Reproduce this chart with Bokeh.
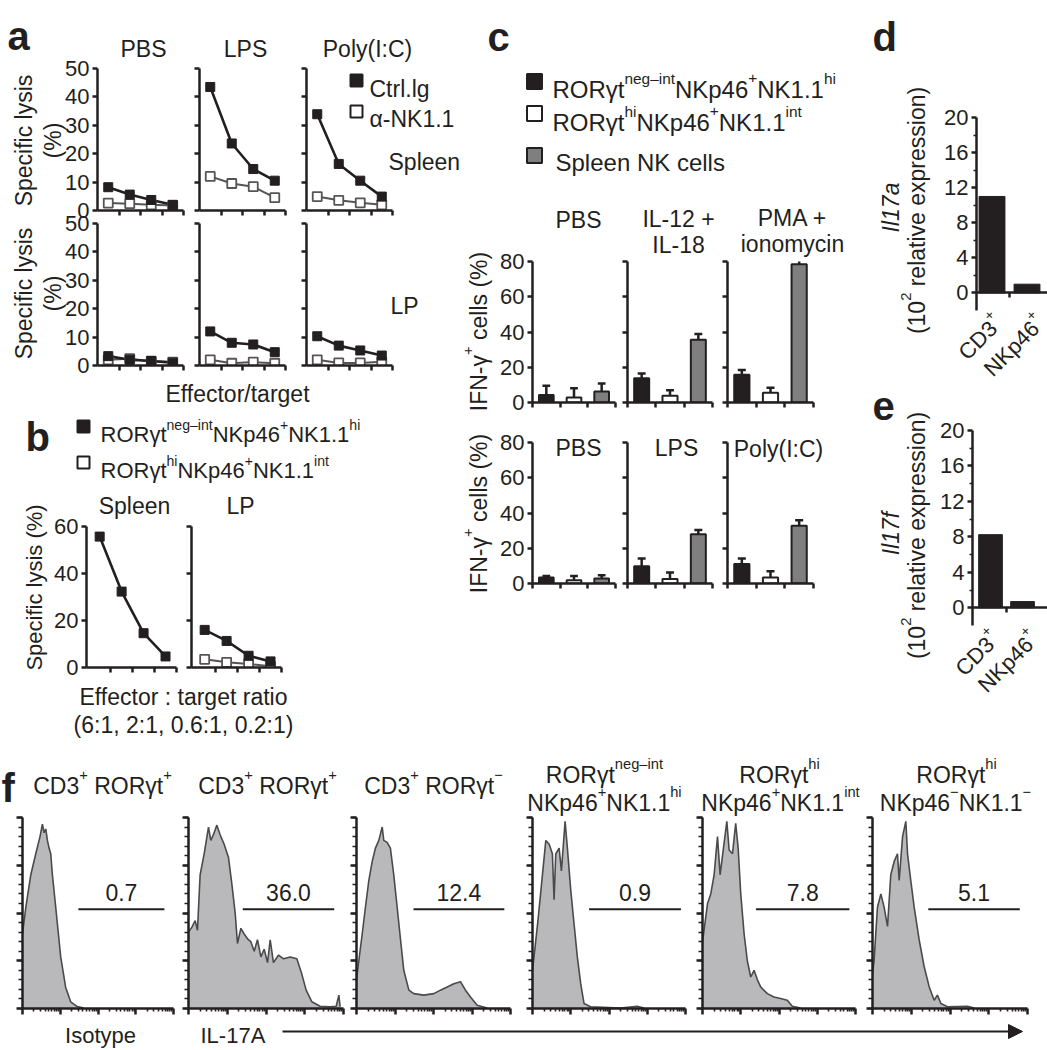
import math
from bokeh.plotting import figure
from bokeh.layouts import column
from bokeh.models import Range1d, FixedTicker, Label, Arrow, NormalHead
from bokeh.core.properties import value
from bokeh.embed import file_html
from bokeh.resources import INLINE

# ------------------------------------------------------------------ data
# panel a: specific lysis (%) at 4 effector/target ratios
et_index = [1, 2, 3, 4]
a_spleen_pbs_ctrl = [8.2, 5.6, 3.7, 2.0]
a_spleen_pbs_nk = [2.6, 2.4, 2.0, 1.8]
a_spleen_lps_ctrl = [43.5, 23.6, 14.6, 10.5]
a_spleen_lps_nk = [12.0, 9.5, 8.4, 4.5]
a_spleen_poly_ctrl = [33.9, 16.4, 10.5, 4.9]
a_spleen_poly_nk = [4.9, 3.6, 2.7, 2.0]
a_lp_pbs_ctrl = [3.3, 2.0, 1.6, 1.0]
a_lp_pbs_nk = [2.0, 2.4, 1.5, 1.2]
a_lp_lps_ctrl = [12.0, 8.0, 7.4, 4.7]
a_lp_lps_nk = [2.0, 0.8, 1.2, 0.8]
a_lp_poly_ctrl = [10.3, 7.0, 5.3, 3.5]
a_lp_poly_nk = [2.0, 0.9, 0.9, 1.3]

# panel b
b_spleen_neg = [55.7, 32.3, 14.6, 4.7]
b_lp_neg = [16.0, 11.3, 5.0, 2.6]
b_lp_hi = [3.5, 2.2, 1.5, 0.5]

# panel c: IFN-gamma+ cells (%), groups = neg-int, hi, spleen NK
c_group = [1, 2, 3]
c_pbs_top = [4.3, 2.8, 6.2];       c_pbs_top_sem = [5.2, 5.3, 4.6]
c_il12_top = [13.8, 3.8, 35.6];    c_il12_top_sem = [2.7, 3.2, 3.2]
c_pma_top = [15.7, 5.5, 78.5];     c_pma_top_sem = [2.8, 2.8, 2.8]
c_pbs_bot = [3.4, 1.9, 2.8];       c_pbs_bot_sem = [0.9, 2.4, 1.9]
c_lps_bot = [9.8, 2.5, 28.0];      c_lps_bot_sem = [4.4, 3.7, 2.3]
c_poly_bot = [11.0, 3.4, 32.7];    c_poly_bot_sem = [3.2, 3.6, 3.2]

# panels d, e (10^2 relative expression)
de_cells = [1, 2]
il17a = [11.0, 1.0]
il17f = [8.25, 0.7]

# panel f: IL-17A histograms (x: % of log scale, y: % of mode)
iso_x = [0, 2.2, 5.5, 8.8, 11.6, 13.2, 14.3, 15.4, 16.5, 17.6, 18.7, 19.8, 22, 25.3, 28.6, 31.9, 36.3, 40.7]
iso_y = [39, 53, 70, 81, 90, 96.5, 92, 94, 88, 84, 81, 70, 53, 27, 11, 3.5, 1, 0.3]
cd3p_x = [0, 2.2, 4.3, 5.8, 7.5, 10.1, 12.9, 14.4, 16.1, 18.3, 20.4, 23, 25.8, 28, 30.1, 31.6, 33.8, 35.9,
          38.1, 40.2, 42.4, 44.5, 46.7, 48.8, 51, 52.7, 54.8, 58.1, 61.3, 65.6, 69.9, 73.1, 75.9, 79.6,
          84.9, 91.4, 95.3, 97, 97.8]
cd3p_y = [40, 42.6, 46, 41, 70, 81, 95, 88, 91, 96, 91, 86, 79, 65, 50, 34, 42, 39, 36.5, 35, 30, 36, 27,
          31, 24, 36, 24, 28, 26, 27, 26, 18, 9.6, 3.5, 1.2, 0.9, 1.2, 7, 0.9]
cd3n_x = [0, 1.5, 3.7, 5.8, 8, 10.2, 12.3, 14.5, 16.7, 17.7, 19.9, 22, 24.2, 26.4, 28.6, 30.7, 34, 37.2,
          43.7, 50.2, 54.5, 58.9, 63.2, 67.5, 70.8, 74, 78.4, 84.8]
cd3n_y = [15, 25, 39, 53, 67, 77, 84, 88, 95, 88, 87, 84, 70, 53, 36, 20, 9.6, 7.8, 7, 7.8, 9.6, 11.3, 13,
          14, 9.6, 6, 1.7, 0.3]
nkneg_x = [0, 0.7, 3.3, 6.5, 8.7, 10.9, 13, 14.1, 15.2, 17.4, 18.9, 20.2, 21.3, 22.8, 25, 27.2, 29.3,
           31.5, 33.7, 38, 57.6, 68.5, 72.8]
nkneg_y = [20, 25, 44, 70, 88, 86, 81, 57, 81, 84, 72, 86, 98, 84, 62, 44, 27, 13, 2.6, 0.9, 0.3, 1.2, 0.3]
nkint_x = [0, 0.7, 3.3, 5.4, 7.6, 9.8, 11.5, 13.7, 15.9, 17.4, 19.6, 21.7, 23.3, 25, 27.2, 29.3, 31.5,
           33.7, 35.9, 38, 42.4, 46.7, 51, 55.4, 58.7, 64.1]
nkint_y = [35, 39, 55, 60, 70, 90, 70, 84, 98, 83, 81, 97, 84, 60, 39, 25, 16.5, 20, 15, 11.3, 7.8, 6,
           5.2, 4.3, 1.2, 0.3]
rorhi_x = [0, 1, 3.2, 5.4, 7.5, 9.7, 11.8, 14, 16.1, 17.2, 19.4, 21.5, 22.6, 24.7, 26.9, 30.1, 33.3,
           36.6, 39.8, 41.9, 44.1, 48.4, 61.3, 65.6]
rorhi_y = [18, 25, 53, 60, 53, 43, 70, 77, 81, 67, 90, 98, 81, 67, 53, 36, 22, 11.3, 4.3, 7, 2.6, 0.9,
           1.2, 0.3]
f_gate_lo = [37, 35, 37, 37, 35, 36]
f_gate_hi = [94, 94, 96, 97, 96, 95]
f_gate_level = 52
f_gate_pct = ["0.7", "36.0", "12.4", "0.9", "7.8", "5.1"]

# ------------------------------------------------------------------ style / layout
W, H = 1047, 1050
OX, OY = 0, 0
FONT = "Liberation Sans"
INK = "#231f20"
GRAYBAR = "#7f7f7f"
HFILL = "#b9b9bb"
HLINE = "#4a4a4a"
OPEN_LINE = "#555555"

figs = []


def clean(p):
    p.title.visible = False
    p.outline_line_color = None
    p.background_fill_color = None
    p.border_fill_color = None
    p.grid.visible = False
    p.frame_align = False


def mkfig(fx0, fy0, fx1, fy1, xr, yr):
    p = figure(width=W, height=H, x_range=Range1d(*xr), y_range=Range1d(*yr),
               min_border_left=int(round(fx0 - OX)), min_border_right=int(round(W - (fx1 - OX))),
               min_border_top=int(round(fy0 - OY)), min_border_bottom=int(round(H - (fy1 - OY))),
               toolbar_location=None, output_backend="svg")
    clean(p)
    figs.append(p)
    return p


def axstyle(ax, ticks, minor=None, labels=True, size=22, tick_out=5, lw=2.5, minor_out=3):
    ax.ticker = FixedTicker(ticks=ticks, minor_ticks=minor or [])
    ax.axis_line_width = lw
    ax.axis_line_color = INK
    ax.major_tick_line_width = lw
    ax.major_tick_line_color = INK
    ax.major_tick_out = tick_out
    ax.major_tick_in = 0
    ax.minor_tick_line_width = 1.6
    ax.minor_tick_line_color = INK
    ax.minor_tick_out = minor_out if minor else 0
    ax.minor_tick_in = 0
    ax.major_label_text_font = FONT
    ax.major_label_text_font_size = f"{size}px"
    ax.major_label_text_color = INK if labels else None
    ax.major_label_standoff = 3


# ---------------- panel a
a_cols = [(97, 183), (199, 285), (306, 392)]
a_rows = [(68, 210), (223, 365)]
a_series = [
    [(a_spleen_pbs_ctrl, a_spleen_pbs_nk), (a_spleen_lps_ctrl, a_spleen_lps_nk), (a_spleen_poly_ctrl, a_spleen_poly_nk)],
    [(a_lp_pbs_ctrl, a_lp_pbs_nk), (a_lp_lps_ctrl, a_lp_lps_nk), (a_lp_poly_ctrl, a_lp_poly_nk)],
]
for r, (y0, y1) in enumerate(a_rows):
    for c, (x0, x1) in enumerate(a_cols):
        p = mkfig(x0, y0, x1, y1, (0.5, 4.5), (0, 50))
        ctrl, nk = a_series[r][c]
        p.line(et_index, nk, line_color=OPEN_LINE, line_width=2)
        p.line(et_index, ctrl, line_color=INK, line_width=2.6)
        p.scatter(et_index, nk, marker="square", size=9, fill_color="white", line_color=OPEN_LINE, line_width=1.8)
        p.scatter(et_index, ctrl, marker="square", size=9, fill_color=INK, line_color=INK, line_width=1)
        axstyle(p.yaxis[0], [0, 10, 20, 30, 40, 50], labels=(c == 0))
        axstyle(p.xaxis[0], [1.5, 2.5, 3.5, 4.5], labels=False)

# ---------------- panel b
b_cols = [(86, 176), (191, 281)]
for c, (x0, x1) in enumerate(b_cols):
    p = mkfig(x0, 526, x1, 667, (0.4, 4.5), (0, 60))
    if c == 0:
        p.line(et_index, b_spleen_neg, line_color=INK, line_width=2.6)
        p.scatter(et_index, b_spleen_neg, marker="square", size=9, fill_color=INK, line_color=INK)
    else:
        p.line(et_index, b_lp_hi, line_color=OPEN_LINE, line_width=2)
        p.line(et_index, b_lp_neg, line_color=INK, line_width=2.6)
        p.scatter(et_index, b_lp_hi, marker="square", size=9, fill_color="white", line_color=OPEN_LINE, line_width=1.8)
        p.scatter(et_index, b_lp_neg, marker="square", size=9, fill_color=INK, line_color=INK)
    axstyle(p.yaxis[0], [0, 20, 40, 60], labels=(c == 0))
    axstyle(p.xaxis[0], [1.5, 2.5, 3.5, 4.5], labels=False)

# ---------------- panel c
c_cols = [(532, 615), (627, 712), (727, 813)]
c_rows = [(261, 402), (442, 583)]
c_sets = [
    [(c_pbs_top, c_pbs_top_sem), (c_il12_top, c_il12_top_sem), (c_pma_top, c_pma_top_sem)],
    [(c_pbs_bot, c_pbs_bot_sem), (c_lps_bot, c_lps_bot_sem), (c_poly_bot, c_poly_bot_sem)],
]
bar_fill = [INK, "white", GRAYBAR]
for r, (y0, y1) in enumerate(c_rows):
    for c, (x0, x1) in enumerate(c_cols):
        p = mkfig(x0, y0, x1, y1, (0.5, 3.5), (0, 80))
        mean, sem = c_sets[r][c]
        tips = [m + s for m, s in zip(mean, sem)]
        p.segment(x0=c_group, y0=mean, x1=c_group, y1=tips, line_color=INK, line_width=2.5)
        p.segment(x0=[g - 0.14 for g in c_group], y0=tips, x1=[g + 0.14 for g in c_group], y1=tips,
                  line_color=INK, line_width=2.5)
        p.vbar(x=c_group, top=mean, width=0.53, fill_color=bar_fill, line_color=INK, line_width=2)
        axstyle(p.yaxis[0], [0, 20, 40, 60, 80], labels=(c == 0))
        axstyle(p.xaxis[0], [0.5, 1.5, 2.5, 3.5], labels=False)

# ---------------- panels d, e
for vals, (x0, y0, x1, y1), xr in [(il17a, (976, 117, 1047, 310), (0.557, 2.586)),
                                    (il17f, (972, 430, 1047, 625), (0.4375, 2.78))]:
    p = mkfig(x0, y0, x1, y1, xr, (-2, 20))
    p.vbar(x=de_cells, top=vals, width=0.74, fill_color=INK, line_color=INK)
    axstyle(p.yaxis[0], [0, 4, 8, 12, 16, 20], minor=[2, 6, 10, 14, 18])
    axstyle(p.xaxis[0], [1.5], labels=False)
    p.xaxis[0].fixed_location = 0

# ---------------- panel f
f_cols = [(22, 173), (188, 343), (356, 510), (532, 685), (702, 855), (872, 1027)]
f_hists = [(iso_x, iso_y), (cd3p_x, cd3p_y), (cd3n_x, cd3n_y), (nkneg_x, nkneg_y),
           (nkint_x, nkint_y), (rorhi_x, rorhi_y)]
log_minor = [25 * (k + math.log10(m)) for k in range(4) for m in range(2, 10)]
for i, (x0, x1) in enumerate(f_cols):
    p = mkfig(x0, 817, x1, 1008, (0, 100), (0, 100))
    hx, hy = f_hists[i]
    p.varea(x=hx, y1=0, y2=hy, fill_color=HFILL)
    p.line(hx, hy, line_color=HLINE, line_width=1.6)
    p.segment(x0=[f_gate_lo[i]], y0=[f_gate_level], x1=[f_gate_hi[i]], y1=[f_gate_level],
              line_color=INK, line_width=2)
    p.text(x=[(f_gate_lo[i] + f_gate_hi[i]) / 2], y=[f_gate_level + 8.5], text=[f_gate_pct[i]],
           text_font=value(FONT), text_font_size=value("23px"), text_align="center",
           text_baseline="middle", text_color=INK)
    axstyle(p.xaxis[0], [0, 25, 50, 75, 100], minor=log_minor, labels=False, tick_out=6, lw=2.5)
    axstyle(p.yaxis[0], [0, 25, 50, 75, 100], minor=list(range(0, 101, 5)), labels=False, tick_out=6,
            lw=2.5, minor_out=4)

# ---------------- annotation layer (reference pixel coordinates)
ann = figure(width=W, height=H, x_range=Range1d(OX, OX + W), y_range=Range1d(OY + H, OY),
             x_axis_type=None, y_axis_type=None, toolbar_location=None, output_backend="svg",
             min_border=0)
clean(ann)

CW = {' ': 278, '!': 278, '(': 333, ')': 333, '+': 584, ',': 278, '-': 333, '.': 278, '/': 278, ':': 278,
      '%': 889, 'A': 667, 'B': 667, 'C': 722, 'D': 722, 'E': 667, 'F': 611, 'G': 778, 'H': 722, 'I': 278,
      'J': 500, 'K': 667, 'L': 556, 'M': 833, 'N': 722, 'O': 778, 'P': 667, 'Q': 778, 'R': 722, 'S': 667,
      'T': 611, 'U': 722, 'V': 667, 'W': 944, 'X': 667, 'Y': 667, 'Z': 611, 'a': 556, 'b': 556, 'c': 500,
      'd': 556, 'e': 556, 'f': 278, 'g': 556, 'h': 556, 'i': 222, 'j': 222, 'k': 500, 'l': 222, 'm': 833,
      'n': 556, 'o': 556, 'p': 556, 'q': 556, 'r': 333, 's': 500, 't': 278, 'u': 556, 'v': 500, 'w': 722,
      'x': 500, 'y': 500, 'z': 500, 'γ': 500, 'α': 578, '–': 556, '−': 584}


def tw(s, size):
    return sum(CW.get(ch, 556) for ch in s) / 1000.0 * size


def put(x, y, s, size, align="left", angle=0.0, style="normal"):
    ann.add_layout(Label(x=x, y=y, text=s, text_font=FONT, text_font_size=f"{size:.1f}px",
                         text_align=align, text_baseline="alphabetic", angle=angle,
                         text_font_style=style, text_color=INK))


def rich(x, y, segs, size, align="left", angle=0.0, style="normal"):
    """x, y: point on the cap-centre line of the text."""
    ssz = size * 0.64
    ca, sa = math.cos(angle), math.sin(angle)
    adv = (ca, -sa)
    down = (sa, ca)
    if len(segs) == 1 and segs[0][1] == "n":
        d = 0.36 * size
        put(x + d * down[0], y + d * down[1], segs[0][0], size, align, angle, style)
        return
    ws = [tw(t, size if k == "n" else ssz) for t, k in segs]
    total = sum(ws)
    off = {"left": 0.0, "center": -total / 2, "right": -total}[align]
    for (t, k), w in zip(segs, ws):
        if k == "n":
            d, fs = 0.36 * size, size
        else:
            d, fs = 0.36 * size - 0.45 * size, ssz
        lead = len(t) - len(t.lstrip(" "))
        o2 = off + tw(" " * lead, fs)
        put(x + o2 * adv[0] + d * down[0], y + o2 * adv[1] + d * down[1], t.lstrip(" "), fs, "left", angle, style)
        off += w


def t(x, y, s, size=23, align="left", angle=0.0, style="normal"):
    rich(x, y, [(s, "n")], size, align, angle, style)


V = math.pi / 2
# panel letters
for lx, ly, ch in [(7, 35, "a"), (25, 436, "b"), (487, 36, "c"), (872, 36, "d"), (872, 405, "e"), (1, 787, "f")]:
    put(lx, ly, ch, 40, style="bold")

# panel a texts
t(143, 40, "PBS", 23, "center")
t(245, 40, "LPS", 23, "center")
t(367, 40, "Poly(I:C)", 23, "center")
ann.scatter([356, 356], [80, 111], marker="square", size=12, fill_color=[INK, "white"], line_color=INK, line_width=2)
t(369, 80, "Ctrl.lg", 23)
t(369, 110, "α-NK1.1", 23)
t(388, 153, "Spleen", 23)
t(390, 297, "LP", 23)
for cy in (140, 293):
    t(15, cy, "Specific lysis", 23, "center", V)
    t(44, cy, "(%)", 23, "center", V)
t(237, 385, "Effector/target", 23, "center")

# panel b texts
SEG_NEG = [("RORγt", "n"), ("neg–int", "s"), ("NKp46", "n"), ("+", "s"), ("NK1.1", "n"), ("hi", "s")]
SEG_HI = [("RORγt", "n"), ("hi", "s"), ("NKp46", "n"), ("+", "s"), ("NK1.1", "n"), ("int", "s")]
ann.scatter([83, 83], [426, 462], marker="square", size=12, fill_color=[INK, "white"], line_color=INK, line_width=2)
rich(100, 426, SEG_NEG, 22)
rich(100, 462, SEG_HI, 22)
t(134, 497, "Spleen", 23, "center")
t(240, 497, "LP", 23, "center")
t(26, 587, "Specific lysis (%)", 22, "center", V)
t(183, 688, "Effector : target ratio", 23, "center")
t(183, 716, "(6:1, 2:1, 0.6:1, 0.2:1)", 23, "center")

# panel c texts
ann.scatter([534, 534, 534], [81, 113, 155], marker="square", size=15, fill_color=[INK, "white", GRAYBAR],
            line_color=INK, line_width=2)
rich(552, 80, SEG_NEG, 24)
rich(552, 113, SEG_HI, 24)
t(555, 153, "Spleen NK cells", 24)
t(578, 211, "PBS", 23, "center")
t(678, 210, "IL-12 +", 23, "center")
t(678, 236, "IL-18", 23, "center")
t(792, 209, "PMA +", 23, "center")
t(792, 235, "ionomycin", 23, "center")
t(578, 439, "PBS", 23, "center")
t(676, 439, "LPS", 23, "center")
t(778, 440, "Poly(I:C)", 23, "center")
for cy in (331, 513):
    rich(470, cy, [("IFN-γ", "n"), ("+", "s"), (" cells (%)", "n")], 23, "center", V)

# panels d, e texts
REL = [("(10", "n"), ("2", "s"), (" relative expression)", "n")]
t(882, 207, "Il17a", 23, "center", V, "italic")
rich(908, 210, REL, 23, "center", V)
t(882, 533, "Il17f", 23, "center", V, "italic")
rich(908, 535, REL, 23, "center", V)
D45 = math.pi / 4
for (xe, ye) in [(993, 313), (990, 629)]:
    rich(xe, ye, [("CD3", "n"), ("+", "s")], 22, "right", D45)
for (xe, ye) in [(1035, 313), (1029, 629)]:
    rich(xe, ye, [("NKp46", "n"), ("+", "s")], 22, "right", D45)

# panel f texts
rich(102, 777, [("CD3", "n"), ("+", "s"), (" RORγt", "n"), ("+", "s")], 23, "center")
rich(267, 777, [("CD3", "n"), ("+", "s"), (" RORγt", "n"), ("+", "s")], 23, "center")
rich(433, 777, [("CD3", "n"), ("+", "s"), (" RORγt", "n"), ("−", "s")], 23, "center")
rich(604, 766, [("RORγt", "n"), ("neg–int", "s")], 23, "center")
rich(604, 794, [("NKp46", "n"), ("+", "s"), ("NK1.1", "n"), ("hi", "s")], 23, "center")
rich(779, 766, [("RORγt", "n"), ("hi", "s")], 23, "center")
rich(780, 794, [("NKp46", "n"), ("+", "s"), ("NK1.1", "n"), ("int", "s")], 23, "center")
rich(956, 766, [("RORγt", "n"), ("hi", "s")], 23, "center")
rich(955, 794, [("NKp46", "n"), ("−", "s"), ("NK1.1", "n"), ("−", "s")], 23, "center")
t(100, 1027, "Isotype", 22, "center")
t(200, 1027, "IL-17A", 22)
ann.add_layout(Arrow(end=NormalHead(size=14, fill_color=INK, line_color=INK, line_width=1),
                     x_start=282, y_start=1031, x_end=1022, y_end=1031, line_color=INK, line_width=2))

figs.append(ann)

for f in figs[1:]:
    f.margin = (-H, 0, 0, 0)
figs[0].margin = (0, 0, 0, 0)
layout = column(*figs, spacing=0, width=W, height=H)
open("out.html", "w").write(file_html(layout, INLINE))
